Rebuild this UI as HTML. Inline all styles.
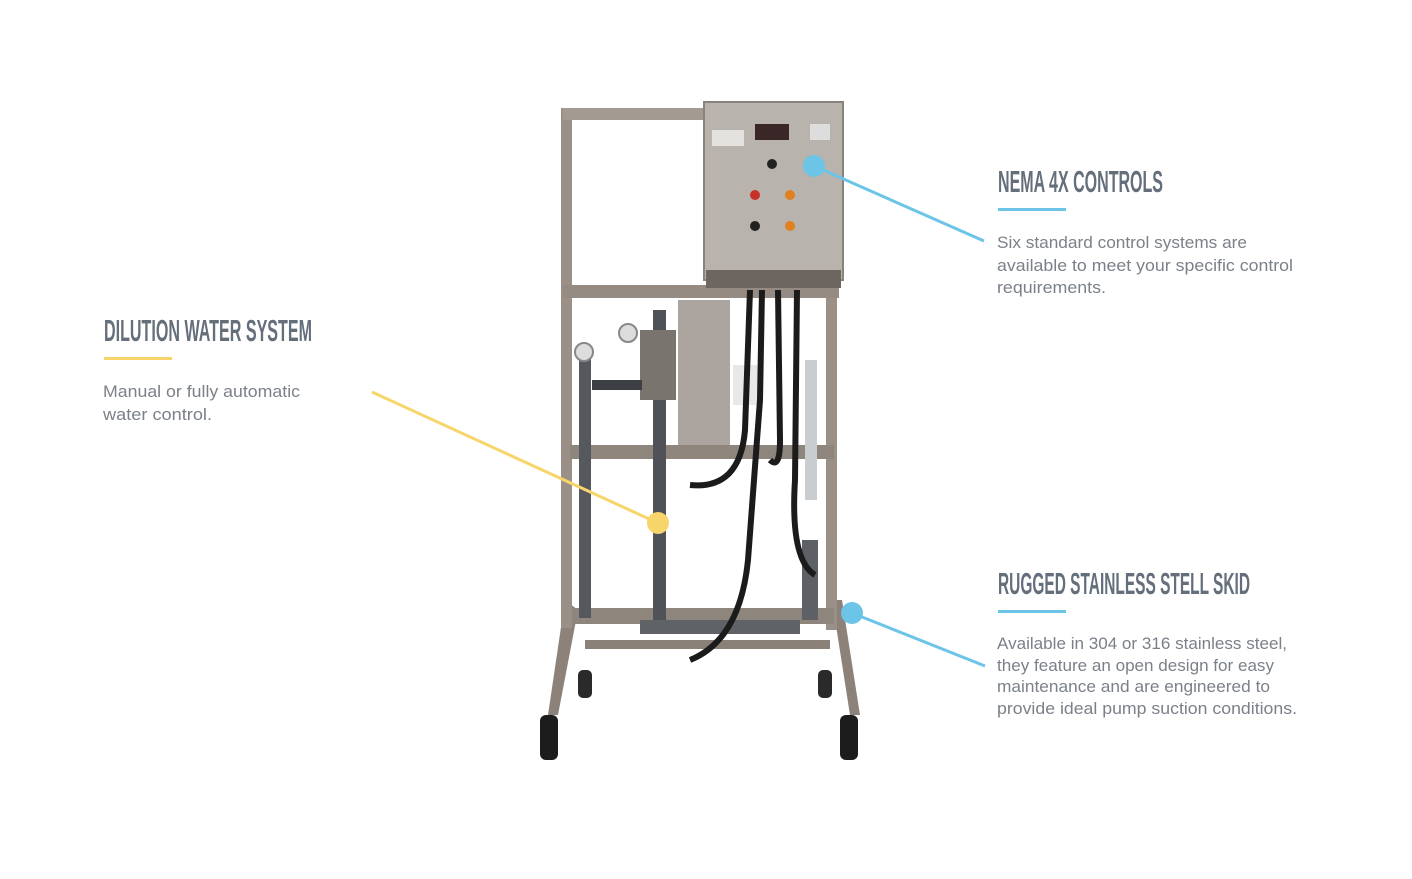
<!DOCTYPE html>
<html><head><meta charset="utf-8"><style>
html,body{margin:0;padding:0;background:#fff;}
svg{display:block}
.h{font-family:"Liberation Sans",sans-serif;font-weight:bold;fill:#646f7b;font-size:31px}
.b{font-family:"Liberation Sans",sans-serif;fill:#7b8189;font-size:16.5px}
</style></head><body>
<svg width="1412" height="879" viewBox="0 0 1412 879" xmlns="http://www.w3.org/2000/svg">
<rect width="1412" height="879" fill="#fff"/>
<g>
 <path d="M565 600 L548 715 L558 715 L578 610Z" fill="#8c8279"/>
 <path d="M832 600 L850 715 L860 715 L842 600Z" fill="#8c8279"/>
 <rect x="561" y="108" width="11" height="520" fill="#9a9088"/>
 <rect x="826" y="285" width="11" height="345" fill="#9a9088"/>
 <rect x="563" y="108" width="145" height="12" fill="#a39a92"/>
 <rect x="563" y="285" width="276" height="13" fill="#958b82"/>
 <rect x="570" y="445" width="264" height="14" fill="#8e857d"/>
 <rect x="572" y="608" width="262" height="16" fill="#8e857d"/>
 <rect x="585" y="640" width="245" height="9" fill="#8a8178"/>
 <rect x="704" y="102" width="139" height="178" fill="#b9b3ad" stroke="#8a827b" stroke-width="2"/>
 <rect x="706" y="270" width="135" height="18" fill="#6d655f"/>
 <rect x="755" y="124" width="34" height="16" fill="#3a2626"/>
 <rect x="810" y="124" width="20" height="16" fill="#ddd"/>
 <rect x="712" y="130" width="32" height="16" fill="#e4e2df"/>
 <circle cx="772" cy="164" r="5" fill="#222"/>
 <circle cx="755" cy="195" r="5" fill="#c8302a"/>
 <circle cx="790" cy="195" r="5" fill="#e0801f"/>
 <circle cx="755" cy="226" r="5" fill="#222"/>
 <circle cx="790" cy="226" r="5" fill="#e0801f"/>
 <rect x="678" y="300" width="52" height="145" fill="#aca59f"/>
 <rect x="733" y="365" width="30" height="40" fill="#e8e8e8"/>
 <rect x="579" y="358" width="12" height="260" fill="#55595e"/>
 <rect x="653" y="310" width="13" height="310" fill="#4f5358"/>
 <rect x="805" y="360" width="12" height="140" fill="#c9cdd0"/>
 <rect x="802" y="540" width="16" height="80" fill="#5d6166"/>
 <rect x="640" y="330" width="36" height="70" fill="#7a746f"/>
 <rect x="592" y="380" width="50" height="10" fill="#3c3f43"/>
 <circle cx="584" cy="352" r="9" fill="#ddd" stroke="#888" stroke-width="2"/>
 <circle cx="628" cy="333" r="9" fill="#ddd" stroke="#888" stroke-width="2"/>
 <rect x="640" y="620" width="160" height="14" fill="#5f6368"/>
 <g fill="none" stroke="#1b1b1b" stroke-width="6">
  <path d="M750 290 L745 430 Q740 490 690 485"/>
  <path d="M762 290 L760 400 Q755 470 748 560 Q740 640 690 660"/>
  <path d="M778 290 L780 440 Q780 470 770 460"/>
  <path d="M797 290 L795 480 Q790 560 815 575"/>
 </g>
 <rect x="540" y="715" width="18" height="45" rx="6" fill="#1c1c1c"/>
 <rect x="840" y="715" width="18" height="45" rx="6" fill="#1c1c1c"/>
 <rect x="578" y="670" width="14" height="28" rx="5" fill="#2a2a2a"/>
 <rect x="818" y="670" width="14" height="28" rx="5" fill="#2a2a2a"/>
</g>
<line x1="814" y1="166" x2="984" y2="241" stroke="#6cc4e6" stroke-width="3"/>
<circle cx="814" cy="166" r="11" fill="#6cc4e6"/>
<line x1="372" y1="392" x2="658" y2="523" stroke="#f8d56b" stroke-width="3"/>
<circle cx="658" cy="523" r="11" fill="#f8d56b"/>
<line x1="852" y1="613" x2="985" y2="666" stroke="#6cc4e6" stroke-width="3"/>
<circle cx="852" cy="613" r="11" fill="#6cc4e6"/>

<text class="h" x="998" y="192" textLength="165" lengthAdjust="spacingAndGlyphs">NEMA 4X CONTROLS</text>
<rect x="998" y="208" width="68" height="3" fill="#6cc4e6"/>
<text class="b" x="997" y="248" textLength="250" lengthAdjust="spacingAndGlyphs">Six standard control systems are</text>
<text class="b" x="997" y="271" textLength="296" lengthAdjust="spacingAndGlyphs">available to meet your specific control</text>
<text class="b" x="997" y="293" textLength="109" lengthAdjust="spacingAndGlyphs">requirements.</text>

<text class="h" x="104" y="341" textLength="208" lengthAdjust="spacingAndGlyphs">DILUTION WATER SYSTEM</text>
<rect x="104" y="357" width="68" height="3" fill="#f8d56b"/>
<text class="b" x="103" y="397" textLength="197" lengthAdjust="spacingAndGlyphs">Manual or fully automatic</text>
<text class="b" x="103" y="420" textLength="109" lengthAdjust="spacingAndGlyphs">water control.</text>

<text class="h" x="998" y="594" textLength="252" lengthAdjust="spacingAndGlyphs">RUGGED STAINLESS STELL SKID</text>
<rect x="998" y="610" width="68" height="3" fill="#6cc4e6"/>
<text class="b" x="997" y="649" textLength="290" lengthAdjust="spacingAndGlyphs">Available in 304 or 316 stainless steel,</text>
<text class="b" x="997" y="671" textLength="277" lengthAdjust="spacingAndGlyphs">they feature an open design for easy</text>
<text class="b" x="997" y="692" textLength="273" lengthAdjust="spacingAndGlyphs">maintenance and are engineered to</text>
<text class="b" x="997" y="714" textLength="300" lengthAdjust="spacingAndGlyphs">provide ideal pump suction conditions.</text>
</svg>
</body></html>
